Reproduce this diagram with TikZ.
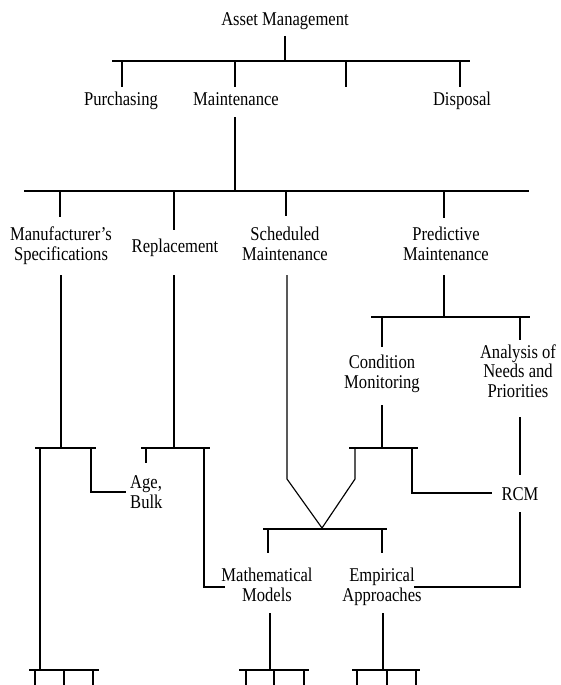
\documentclass[tikz,border=0pt]{standalone}
\usepackage{fontspec}
\setmainfont{Liberation Serif}[FakeStretch=0.85]
\begin{document}
\begin{tikzpicture}[x=1pt,y=-1pt,
  lbl/.style={inner sep=0pt, anchor=base, align=center, font=\fontsize{19.5}{19.5}\selectfont},
  ln/.style={draw=black, line width=1.15pt}]
\useasboundingbox (0,0) rectangle (560,685);
% text nodes (anchor at baseline of last line)
\node[lbl] (am) at (285,26) {Asset Management};
\node[lbl] (pur) at (121,105) {Purchasing};
\node[lbl] (mai) at (236,105) {Maintenance};
\node[lbl] (dis) at (462,105) {Disposal};
\node[lbl] (man) at (61,260) {Manufacturer's\\Specifications};
\node[lbl] (rep) at (175,252) {Replacement};
\node[lbl] (sch) at (285,260) {Scheduled\\Maintenance};
\node[lbl] (pre) at (446,260) {Predictive\\Maintenance};
\node[lbl] (con) at (382,388) {Condition\\Monitoring};
\node[lbl] (ana) at (518,397) {Analysis of\\Needs and\\Priorities};
\node[lbl, anchor=base west, align=left] (age) at (130,508) {Age,\\Bulk};
\node[lbl] (rcm) at (520,500) {RCM};
\node[lbl] (mat) at (267,601) {Mathematical\\Models};
\node[lbl] (emp) at (382,601) {Empirical\\Approaches};
% junction coordinates
\coordinate (a0) at (285,36); \coordinate (a1) at (285,61);
\coordinate (b1l) at (112,61); \coordinate (b1r) at (470,61);
\coordinate (m0) at (235,117); \coordinate (m1) at (235,191);
\coordinate (b2l) at (24,191); \coordinate (b2r) at (529,191);
\coordinate (b3l) at (371,317); \coordinate (b3r) at (530,317);
\coordinate (v1) at (322,528);
% top level
\draw[ln] (a0) -- (a1);
\draw[ln] (b1l) -- (b1r);
\foreach \x in {122,235,346,460} \draw[ln] (\x,61) -- (\x,87);
\draw[ln] (m0) -- (m1);
\draw[ln] (b2l) -- (b2r);
\draw[ln] (60,191) -- (60,217);
\draw[ln] (174,191) -- (174,230);
\draw[ln] (286,191) -- (286,216);
\draw[ln] (444,191) -- (444,218);
% second level
\draw[ln] (61,275) -- (61,448);
\draw[ln] (174,275) -- (174,448);
\draw[ln] (287,275) -- (287,479) -- (v1);
\draw[ln] (444,275) -- (444,317);
\draw[ln] (b3l) -- (b3r);
\draw[ln] (382,317) -- (382,347);
\draw[ln] (520,317) -- (520,340);
% predictive branch
\draw[ln] (382,405) -- (382,448);
\draw[ln] (349,448) -- (418,448);
\draw[ln] (355,448) -- (355,479) -- (v1);
\draw[ln] (412,448) -- (412,493) -- (492,493);
\draw[ln] (520,417) -- (520,475);
\draw[ln] (520,512) -- (520,587) -- (414,587);
% manufacturer / replacement
\draw[ln] (35,448) -- (96,448);
\draw[ln] (40,448) -- (40,670);
\draw[ln] (91,448) -- (91,492) -- (126,492);
\draw[ln] (141,448) -- (210,448);
\draw[ln] (146,448) -- (146,463);
\draw[ln] (204,448) -- (204,587) -- (225,587);
% models
\draw[ln] (263,529) -- (387,529);
\draw[ln] (268,529) -- (268,553);
\draw[ln] (382,529) -- (382,553);
\draw[ln] (270,613) -- (270,670);
\draw[ln] (383,613) -- (383,670);
% bottom bars
\draw[ln] (29,670) -- (99,670);
\foreach \x in {35,64,93} \draw[ln] (\x,670) -- (\x,685);
\draw[ln] (239,670) -- (309,670);
\foreach \x in {246,274,304} \draw[ln] (\x,670) -- (\x,685);
\draw[ln] (352,670) -- (420,670);
\foreach \x in {357,387,416} \draw[ln] (\x,670) -- (\x,685);
\end{tikzpicture}
\end{document}
